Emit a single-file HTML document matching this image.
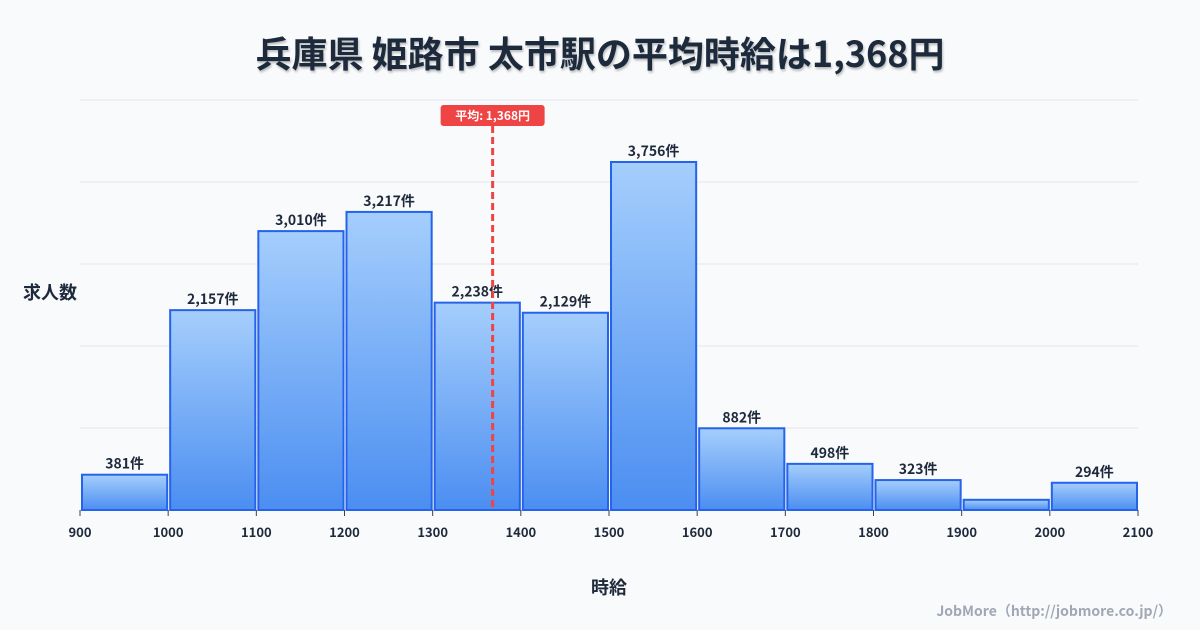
<!DOCTYPE html>
<html><head><meta charset="utf-8"><style>
body{margin:0;background:#f8fafc;font-family:"Noto Sans CJK JP","Liberation Sans",sans-serif;}
#wrap{position:relative;width:1200px;height:630px;overflow:hidden;background:#f8fafc}
svg text{font-family:"Noto Sans CJK JP","Liberation Sans",sans-serif;}
</style></head><body>
<div id="wrap">
<svg id="chart" width="1200" height="630">
<defs><linearGradient id="g" x1="0" y1="0" x2="0" y2="1"><stop offset="0" stop-color="#a5cefc"/><stop offset="1" stop-color="#4b8ef1"/></linearGradient>
<filter id="sh"><feDropShadow dx="1" dy="2" stdDeviation="1" flood-color="#000" flood-opacity="0.25"/></filter></defs>
<text x="600" y="67" text-anchor="middle" font-size="36" font-weight="bold" fill="#1e293b" filter="url(#sh)">兵庫県 姫路市 太市駅の平均時給は1,368円</text>
<text x="50" y="299" text-anchor="middle" font-size="18" font-weight="bold" fill="#1e293b">求人数</text>
<text x="609" y="594" text-anchor="middle" font-size="18" font-weight="bold" fill="#1e293b">時給</text>
<text x="1172" y="616" text-anchor="end" font-size="14" font-weight="bold" fill="#a0a8b4">JobMore（http://jobmore.co.jp/）</text>
<g id="grid"></g><g id="bars"></g><g id="ticks"></g><g id="mean"></g>
</svg></div>
<script>
const binStarts=[900,1000,1100,1200,1300,1400,1500,1600,1700,1800,1900,2000];
const counts=[381,2157,3010,3217,2238,2129,3756,882,498,323,110,294];
const valueLabels=["381件","2,157件","3,010件","3,217件","2,238件","2,129件","3,756件","882件","498件","323件","","294件"];
const xTicks=[900,1000,1100,1200,1300,1400,1500,1600,1700,1800,1900,2000,2100];
const meanValue=1368;
const meanLabel="平均: 1,368円";
const NS="http://www.w3.org/2000/svg";
const X0=80,X1=1138,Y0=510,Y1=100,xmin=900,xmax=2100,ymax=4425;
const x=v=>X0+(v-xmin)/(xmax-xmin)*(X1-X0);
const y=v=>Y0-v/ymax*(Y0-Y1);
function mk(t,a,p){const e=document.createElementNS(NS,t);for(const k in a)e.setAttribute(k,a[k]);p.appendChild(e);return e;}
const grid=document.getElementById('grid');
for(let i=0;i<=5;i++){const gy=Y0-i*(Y0-Y1)/5;const l=mk('line',{x1:X0,x2:X1,y1:gy,y2:gy,stroke:i==0?'#d1d5db':'#e5e7eb','stroke-width':1},grid);

}
const bars=document.getElementById('bars');
binStarts.forEach((b,i)=>{const xa=x(b)+2,xb=x(b+100)-1;
const r=mk('rect',{x:xa,y:y(counts[i]),width:xb-xa,height:Y0-y(counts[i]),fill:'url(#g)',stroke:'#2563eb','stroke-width':2},bars);


if(valueLabels[i]){const t=mk('text',{x:(xa+xb)/2,y:y(counts[i])-6,'text-anchor':'middle','font-size':14,'font-weight':'bold',fill:'#1e293b'},bars);t.textContent=valueLabels[i];

}});
const tk=document.getElementById('ticks');
xTicks.forEach(v=>{const l=mk('line',{x1:x(v),x2:x(v),y1:Y0,y2:Y0+6,stroke:'#374151'},tk);


const t=mk('text',{x:x(v),y:Y0+27,'text-anchor':'middle','font-size':13,'font-weight':'bold',fill:'#1e293b'},tk);t.textContent=v;

});
const m=document.getElementById('mean');const mx=x(meanValue);
const ml=mk('line',{x1:mx,x2:mx,y1:126,y2:Y0,stroke:'#ef4444','stroke-width':3,'stroke-dasharray':'7,4'},m);


const mb=mk('rect',{x:mx-52,y:105,width:104,height:21,rx:3,fill:'#ef4444'},m);


const mt=mk('text',{x:mx,y:120,'text-anchor':'middle','font-size':12,'font-weight':'bold',fill:'#fff'},m);mt.textContent=meanLabel;


</script></body></html>
